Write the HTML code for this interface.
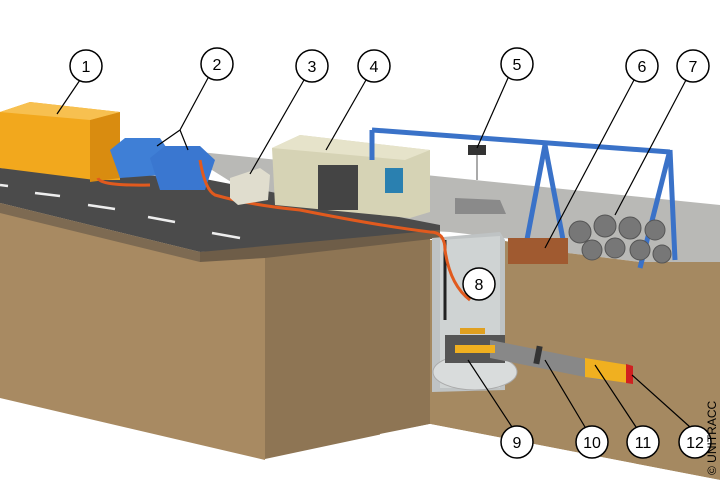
<!DOCTYPE html>
<html><head><style>body{margin:0;background:#fff}svg{display:block}</style></head><body>
<svg width="720" height="480" viewBox="0 0 720 480" xmlns="http://www.w3.org/2000/svg" font-family="Liberation Sans, sans-serif">
<rect width="720" height="480" fill="#fff"/>
<!-- paving top surface -->
<polygon points="180,150 720,205 720,262 640,262 560,252 520,240 450,232 300,225" fill="#b9b9b6"/>
<!-- road -->
<polygon points="0,168 200,178 440,225 440,235 270,250 200,252 0,203" fill="#4b4b4b"/>
<g stroke="#eee" stroke-width="2.5">
<line x1="0" y1="185" x2="8" y2="186"/><line x1="35" y1="193" x2="60" y2="196"/><line x1="88" y1="205" x2="115" y2="209"/><line x1="148" y1="217" x2="175" y2="222"/><line x1="212" y1="233" x2="240" y2="238"/>
</g>
<!-- soil front left -->
<polygon points="0,203 200,252 265,250 265,460 0,398" fill="#a88a62"/>
<polygon points="0,203 200,252 200,262 0,213" fill="#7d6a52"/>
<!-- soil front right -->
<polygon points="265,250 430,232 430,424 265,459" fill="#8e7554"/>
<polygon points="200,252 440,230 440,238 265,258 200,262" fill="#6e5d48"/>
<!-- back wall right of pit -->
<polygon points="500,240 560,252 640,262 720,262 720,480 430,424 430,240" fill="#a58961"/>
<polygon points="430,424 720,480 380,480 380,434" fill="#fff"/>
<!-- shaft -->
<polygon points="432,238 500,232 505,240 505,390 432,392" fill="#bfc3c4"/>
<polygon points="440,240 500,236 500,388 440,388" fill="#cfd3d3"/>
<line x1="445" y1="240" x2="445" y2="320" stroke="#222" stroke-width="3"/>
<ellipse cx="475" cy="372" rx="42" ry="18" fill="#d9dcdc" stroke="#aaa"/>
<!-- pit machine -->
<rect x="445" y="335" width="60" height="28" fill="#555"/>
<polygon points="490,340 600,362 600,380 490,358" fill="#888"/>
<rect x="535" y="346" width="6" height="18" fill="#333" transform="rotate(11 538 355)"/>
<polygon points="585,358 628,365 628,383 585,377" fill="#f0b020"/>
<polygon points="626,364 633,366 633,384 626,383" fill="#d02020"/>
<rect x="455" y="345" width="40" height="8" fill="#f0b020"/>
<rect x="460" y="328" width="25" height="6" fill="#e0a020"/>
<!-- generator 1 -->
<polygon points="0,112 30,102 120,112 120,180 95,180 0,168" fill="#f2a81d"/>
<polygon points="90,120 120,112 120,178 90,182" fill="#d98c10"/>
<polygon points="0,112 30,102 120,112 90,120" fill="#f7c050"/>
<!-- blue tanks -->
<polygon points="110,150 125,138 160,138 168,150 160,175 120,178" fill="#3f7fd6"/>
<polygon points="150,158 165,146 200,146 215,160 205,190 160,190" fill="#3a77d0"/>
<!-- orange cables -->
<path d="M98,178 Q100,186 150,185 M200,160 Q205,190 215,195 Q250,205 300,210 Q380,226 430,232 Q445,232 445,250 Q450,285 470,300" fill="none" stroke="#e15a1e" stroke-width="3"/>
<!-- box 3 -->
<polygon points="230,178 260,168 270,175 268,200 238,205 230,198" fill="#e0ddce"/>
<!-- container 4 -->
<polygon points="272,148 300,135 430,150 430,212 410,218 275,205" fill="#d6d3b5"/>
<polygon points="272,148 300,135 430,150 405,160" fill="#e6e3ca"/>
<rect x="318" y="165" width="40" height="45" fill="#444"/>
<rect x="385" y="168" width="18" height="25" fill="#2a80b0"/>
<!-- gantry -->
<g stroke="#3a72c8" stroke-width="5" fill="none">
<line x1="372" y1="130" x2="670" y2="152"/>
<line x1="545" y1="145" x2="525" y2="250"/><line x1="545" y1="145" x2="565" y2="250"/>
<line x1="670" y1="150" x2="640" y2="268"/><line x1="670" y1="150" x2="675" y2="260"/>
<line x1="372" y1="130" x2="372" y2="160"/>
</g>
<rect x="468" y="145" width="18" height="10" fill="#333"/>
<line x1="477" y1="155" x2="477" y2="180" stroke="#555"/>
<polygon points="455,198 500,200 506,214 455,214" fill="#8a8a8a"/>
<!-- pipes -->
<g fill="#777" stroke="#555">
<circle cx="580" cy="232" r="11"/><circle cx="605" cy="226" r="11"/><circle cx="630" cy="228" r="11"/><circle cx="655" cy="230" r="10"/>
<circle cx="592" cy="250" r="10"/><circle cx="615" cy="248" r="10"/><circle cx="640" cy="250" r="10"/><circle cx="662" cy="254" r="9"/>
</g>
<rect x="508" y="238" width="60" height="26" fill="#a05a30"/>
<!-- leaders -->
<g stroke="#000" stroke-width="1.2">
<line x1="80" y1="80" x2="57" y2="114"/>
<line x1="208" y1="78" x2="180" y2="130"/><line x1="180" y1="130" x2="157" y2="146"/><line x1="180" y1="130" x2="188" y2="150"/>
<line x1="304" y1="80" x2="250" y2="174"/>
<line x1="366" y1="80" x2="326" y2="150"/>
<line x1="508" y1="78" x2="477" y2="148"/>
<line x1="634" y1="80" x2="545" y2="248"/>
<line x1="686" y1="80" x2="615" y2="215"/>
<line x1="512" y1="427" x2="468" y2="360"/>
<line x1="585" y1="427" x2="545" y2="360"/>
<line x1="636" y1="427" x2="595" y2="365"/>
<line x1="690" y1="427" x2="632" y2="375"/>
</g>
<g fill="#fff" stroke="#000" stroke-width="1.5">
<circle cx="86" cy="66" r="16"/><circle cx="217" cy="64" r="16"/><circle cx="312" cy="66" r="16"/><circle cx="374" cy="66" r="16"/><circle cx="517" cy="64" r="16"/><circle cx="642" cy="66" r="16"/><circle cx="693" cy="66" r="16"/><circle cx="479" cy="284" r="16"/><circle cx="517" cy="442" r="16"/><circle cx="592" cy="442" r="16"/><circle cx="643" cy="442" r="16"/><circle cx="695" cy="442" r="16"/>
</g>
<g font-size="16" text-anchor="middle" fill="#000">
<text x="86" y="72">1</text><text x="217" y="70">2</text><text x="312" y="72">3</text><text x="374" y="72">4</text><text x="517" y="70">5</text><text x="642" y="72">6</text><text x="693" y="72">7</text><text x="479" y="290">8</text><text x="517" y="448">9</text><text x="592" y="448">10</text><text x="643" y="448">11</text><text x="695" y="448">12</text>
</g>
<text x="716" y="475" font-size="12" fill="#000" transform="rotate(-90 716 475)">© UNITRACC</text>
</svg>
</body></html>
